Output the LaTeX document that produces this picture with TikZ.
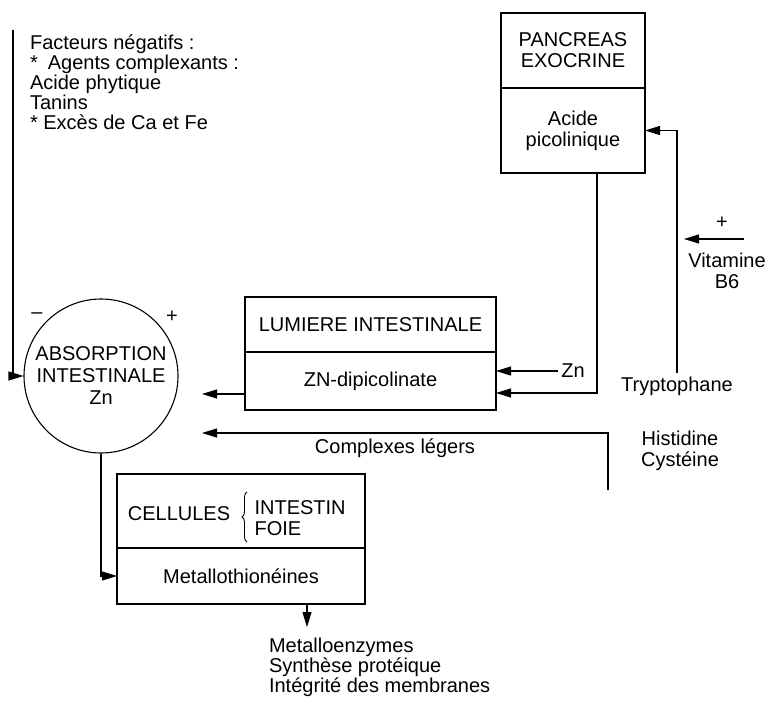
\documentclass[tikz,border=0pt]{standalone}
\usepackage{fontspec}
\setmainfont{Liberation Sans}
\usetikzlibrary{positioning, calc, arrows.meta, decorations.pathreplacing}

\begin{document}
\begin{tikzpicture}[
  x=1pt, y=-1pt,
  every node/.style={font=\fontsize{20}{21}\selectfont, align=center},
  boite/.style={draw, line width=1.1pt, rectangle, outer sep=0pt, inner sep=2pt},
  rond/.style={draw, line width=1.1pt, circle, minimum size=154pt, inner sep=0pt,
    font=\fontsize{20}{22}\selectfont},
  fleche/.style={line width=1.1pt, -{Triangle[length=15pt, width=9pt]}},
  accolade/.style={line width=0.9pt, decorate, decoration={brace, amplitude=5pt}},
  ]
  \useasboundingbox (0,0) rectangle (769,709);

  % facteurs négatifs
  \node[align=left, anchor=north west, font=\fontsize{20}{20}\selectfont] (facteurs) at (26.5,31)
  {Facteurs négatifs :\\{}*\enspace Agents complexants :\\Acide phytique\\Tanins\\{}* Excès de Ca et Fe};

  % absorption intestinale
  \node[rond] (absorb) at (101,376) {ABSORPTION\\INTESTINALE\\Zn};
  \node (moins) at (37,316) {–};
  \node (plus) at (172,317) {+};
  \coordinate (negtop) at (13,30);
  \draw[fleche] (negtop) |- (absorb.west);

  % pancreas exocrine
  \node[boite, minimum width=144pt, minimum height=75pt] (panc) at (573,50.5) {PANCREAS\\EXOCRINE};
  \node[boite, minimum width=144pt, minimum height=85pt, below=0pt of panc] (acide) {Acide\\picolinique};

  % lumiere intestinale
  \node[boite, minimum width=251pt, minimum height=55pt] (lumiere) at (370.5,324.5) {LUMIERE INTESTINALE};
  \node[boite, minimum width=251pt, minimum height=58pt, below=0pt of lumiere] (dipic) {ZN-dipicolinate};

  % cellules
  \node[boite, minimum width=248pt, minimum height=74pt] (cell) at (241,511) {};
  \node[boite, minimum width=248pt, minimum height=56pt, below=0pt of cell] (metal) {Metallothionéines};
  \node (cellules) at (179,514) {CELLULES};
  \node[align=left, anchor=west] (organes) at (251,518) {INTESTIN\\FOIE};
  \draw[accolade] (247,542) -- (247,492);

  % vers l'absorption
  \coordinate (absd) at (202,394);
  \draw[fleche] (dipic.west |- absd) -- (absd);
  \coordinate (absc) at (202,433);
  \coordinate (hisbas) at (608,490);
  \draw[fleche] (hisbas) |- (absc);
  \node (complexes) at (395,448) {Complexes légers};
  \node (histidine) at (680,451) {Histidine\\Cystéine};

  % acide picolinique et Zn
  \draw[fleche] ($(acide.south)+(24,0)$) |- ($(dipic.east)+(0,12)$);
  \node (zn) at (573,371) {Zn};
  \draw[fleche] (zn.west) -- (zn.west -| dipic.east);

  % tryptophane, vitamine B6
  \node (trypto) at (677,386) {Tryptophane};
  \draw[fleche] (trypto.north) |- (acide.east);
  \node (vitb6) at (727,271) {Vitamine\\B6};
  \node (plusb6) at (722,223) {+};
  \coordinate (vitd) at (744,239);
  \coordinate (vitf) at (684,239);
  \draw[fleche] (vitd) -- (vitf);

  % metallothioneines
  \draw[fleche] (absorb.south) |- (metal.west);
  \draw[fleche] ($(metal.south)+(66,0)$) -- ++(0,23);
  \node[align=left, anchor=north west, font=\fontsize{20}{20}\selectfont] (effets) at (265.5,634)
  {Metalloenzymes\\Synthèse protéique\\Intégrité des membranes};
\end{tikzpicture}
\end{document}
